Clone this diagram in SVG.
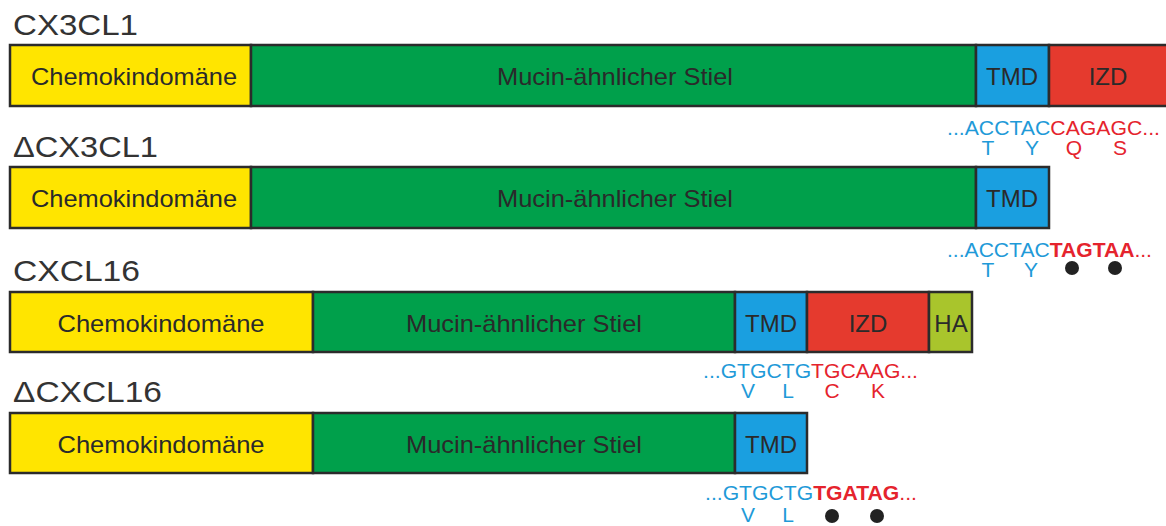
<svg xmlns="http://www.w3.org/2000/svg" width="1166" height="526" viewBox="0 0 1166 526">
<style>
text{font-family:"Liberation Sans",Arial,Helvetica,sans-serif}
.title{font-size:30px;fill:#333333}
.lbl{font-size:24px;fill:#2a2a2a;text-anchor:middle}
.box{stroke:#2b2b2b;stroke-width:2.5}
.y{fill:#ffe500}.g{fill:#00a04b}.b{fill:#1a9fe0}.r{fill:#e53a2e}.h{fill:#a9c52c}
.seq{font-size:21px}
.bl{fill:#1f9ad8}.rd{fill:#e5232d}
.aa{font-size:21px;text-anchor:middle}
.bd{font-weight:bold}
.dot{fill:#222222}
</style>
<rect width="1166" height="526" fill="#ffffff"/>

<g id="cx3cl1">
<text class="title" x="13" y="35" textLength="125" lengthAdjust="spacingAndGlyphs">CX3CL1</text>
<rect class="box y" x="10" y="45" width="241" height="61"/>
<rect class="box g" x="251" y="45" width="725" height="61"/>
<rect class="box b" x="976" y="45" width="73" height="61"/>
<rect class="box r" x="1049" y="45" width="130" height="61"/>
<text class="lbl" x="134" y="85" textLength="206" lengthAdjust="spacingAndGlyphs">Chemokindomäne</text>
<text class="lbl" x="615" y="85" textLength="236" lengthAdjust="spacingAndGlyphs">Mucin-ähnlicher Stiel</text>
<text class="lbl" x="1012" y="85">TMD</text>
<text class="lbl" x="1108" y="85">IZD</text>
<text class="seq" x="947" y="135" textLength="213" lengthAdjust="spacingAndGlyphs"><tspan class="bl">...ACCTAC</tspan><tspan class="rd">CAGAGC...</tspan></text>
<text class="aa bl" x="988" y="155">T</text>
<text class="aa bl" x="1032" y="155">Y</text>
<text class="aa rd" x="1074" y="155">Q</text>
<text class="aa rd" x="1120" y="155">S</text>
</g>

<g id="dcx3cl1">
<text class="title" x="13" y="157" textLength="145" lengthAdjust="spacingAndGlyphs">ΔCX3CL1</text>
<rect class="box y" x="10" y="167" width="241" height="61"/>
<rect class="box g" x="251" y="167" width="725" height="61"/>
<rect class="box b" x="976" y="167" width="73" height="61"/>
<text class="lbl" x="134" y="207" textLength="206" lengthAdjust="spacingAndGlyphs">Chemokindomäne</text>
<text class="lbl" x="615" y="207" textLength="236" lengthAdjust="spacingAndGlyphs">Mucin-ähnlicher Stiel</text>
<text class="lbl" x="1012" y="207">TMD</text>
<text class="seq" x="947" y="257" textLength="205" lengthAdjust="spacingAndGlyphs"><tspan class="bl">...ACCTAC</tspan><tspan class="rd bd">TAGTAA</tspan><tspan class="rd">...</tspan></text>
<text class="aa bl" x="988" y="277">T</text>
<text class="aa bl" x="1031" y="277">Y</text>
<circle class="dot" cx="1072" cy="268" r="7"/>
<circle class="dot" cx="1115" cy="268" r="7"/>
</g>

<g id="cxcl16">
<text class="title" x="13" y="281" textLength="127" lengthAdjust="spacingAndGlyphs">CXCL16</text>
<rect class="box y" x="10" y="292" width="303" height="60"/>
<rect class="box g" x="313" y="292" width="422" height="60"/>
<rect class="box b" x="735" y="292" width="72" height="60"/>
<rect class="box r" x="807" y="292" width="122" height="60"/>
<rect class="box h" x="929" y="292" width="43" height="60"/>
<text class="lbl" x="161" y="332" textLength="207" lengthAdjust="spacingAndGlyphs">Chemokindomäne</text>
<text class="lbl" x="524" y="332" textLength="236" lengthAdjust="spacingAndGlyphs">Mucin-ähnlicher Stiel</text>
<text class="lbl" x="771" y="332">TMD</text>
<text class="lbl" x="868" y="332">IZD</text>
<text class="lbl" x="951" y="332">HA</text>
<text class="seq" x="703" y="378" textLength="215" lengthAdjust="spacingAndGlyphs"><tspan class="bl">...GTGCTG</tspan><tspan class="rd">TGCAAG...</tspan></text>
<text class="aa bl" x="748" y="398">V</text>
<text class="aa bl" x="788" y="398">L</text>
<text class="aa rd" x="832" y="398">C</text>
<text class="aa rd" x="878" y="398">K</text>
</g>

<g id="dcxcl16">
<text class="title" x="13" y="402" textLength="149" lengthAdjust="spacingAndGlyphs">ΔCXCL16</text>
<rect class="box y" x="10" y="413" width="303" height="60"/>
<rect class="box g" x="313" y="413" width="422" height="60"/>
<rect class="box b" x="735" y="413" width="72" height="60"/>
<text class="lbl" x="161" y="453" textLength="207" lengthAdjust="spacingAndGlyphs">Chemokindomäne</text>
<text class="lbl" x="524" y="453" textLength="236" lengthAdjust="spacingAndGlyphs">Mucin-ähnlicher Stiel</text>
<text class="lbl" x="771" y="453">TMD</text>
<text class="seq" x="705" y="500" textLength="212" lengthAdjust="spacingAndGlyphs"><tspan class="bl">...GTGCTG</tspan><tspan class="rd bd">TGATAG</tspan><tspan class="rd">...</tspan></text>
<text class="aa bl" x="748" y="522">V</text>
<text class="aa bl" x="788" y="522">L</text>
<circle class="dot" cx="832" cy="516" r="7"/>
<circle class="dot" cx="877" cy="516" r="7"/>
</g>
</svg>
